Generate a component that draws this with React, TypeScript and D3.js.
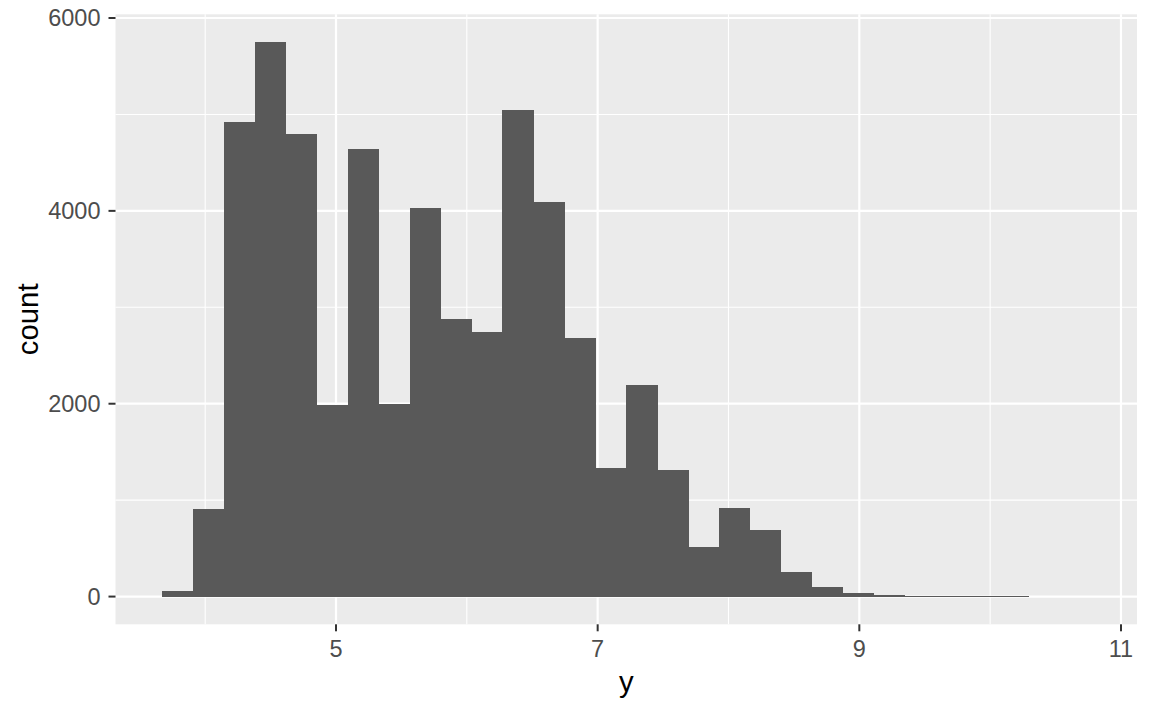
import React from "react";
import * as d3 from "d3";

// Histogram data (30 bins)
const binStart = 3.6695;
const binWidth = 0.2366;
const counts = [
  62, 912, 4922, 5751, 4798, 1982, 4642, 1993, 4031, 2881,
  2746, 5047, 4093, 2684, 1337, 2197, 1316, 518, 922, 694,
  259, 95, 33, 12, 9, 7, 6, 5, 0, 0,
];
const xMajorTicks = [5, 7, 9, 11];
const xMinorTicks = [4, 6, 8, 10];
const yMajorTicks = [0, 2000, 4000, 6000];
const yMinorTicks = [1000, 3000, 5000];
const xTitle = "y";
const yTitle = "count";

const W = 1152;
const H = 711;
const panel = { left: 115.5, right: 1137, top: 14.3, bottom: 624.3 };
const FONT = "'Liberation Sans', Arial, Helvetica, sans-serif";

export default function App() {
  const total = counts.length * binWidth;
  const xScale = d3
    .scaleLinear()
    .domain([binStart - 0.05 * total, binStart + 1.05 * total])
    .range([panel.left, panel.right]);
  const yMax = d3.max(counts) as number;
  const yScale = d3
    .scaleLinear()
    .domain([-0.05 * yMax, 1.05 * yMax])
    .range([panel.bottom, panel.top]);

  const bins = counts.map((c, i) => ({
    x0: binStart + i * binWidth,
    x1: binStart + (i + 1) * binWidth,
    c,
  }));

  return (
    <svg
      width={W}
      height={H}
      style={{ position: "absolute", left: 0, top: 0, background: "#fff" }}
      fontFamily={FONT}
    >
      <rect x={0} y={0} width={W} height={H} fill="#ffffff" />
      <rect
        x={panel.left}
        y={panel.top}
        width={panel.right - panel.left}
        height={panel.bottom - panel.top}
        fill="#EBEBEB"
      />
      {/* minor grid */}
      {yMinorTicks.map((t) => (
        <line
          key={"ym" + t}
          x1={panel.left}
          x2={panel.right}
          y1={yScale(t)}
          y2={yScale(t)}
          stroke="#fff"
          strokeWidth={1.1}
        />
      ))}
      {xMinorTicks.map((t) => (
        <line
          key={"xm" + t}
          y1={panel.top}
          y2={panel.bottom}
          x1={xScale(t)}
          x2={xScale(t)}
          stroke="#fff"
          strokeWidth={1.1}
        />
      ))}
      {/* major grid */}
      {yMajorTicks.map((t) => (
        <line
          key={"yM" + t}
          x1={panel.left}
          x2={panel.right}
          y1={yScale(t)}
          y2={yScale(t)}
          stroke="#fff"
          strokeWidth={2.2}
        />
      ))}
      {xMajorTicks.map((t) => (
        <line
          key={"xM" + t}
          y1={panel.top}
          y2={panel.bottom}
          x1={xScale(t)}
          x2={xScale(t)}
          stroke="#fff"
          strokeWidth={2.2}
        />
      ))}
      {/* bars */}
      <g shapeRendering="crispEdges">
        {bins.map((b, i) =>
          b.c > 0 ? (
            <rect
              key={i}
              x={xScale(b.x0)}
              width={xScale(b.x1) - xScale(b.x0) + 0.4}
              y={yScale(b.c)}
              height={Math.max(1, yScale(0) - yScale(b.c))}
              fill="#595959"
            />
          ) : null
        )}
      </g>
      {/* x axis ticks & labels */}
      {xMajorTicks.map((t) => (
        <g key={"xt" + t}>
          <line
            x1={xScale(t)}
            x2={xScale(t)}
            y1={panel.bottom}
            y2={panel.bottom + 7}
            stroke="#333333"
            strokeWidth={2}
          />
          <text
            x={xScale(t)}
            y={657}
            textAnchor="middle"
            fontSize={23.5}
            fill="#4D4D4D"
          >
            {t}
          </text>
        </g>
      ))}
      {/* y axis ticks & labels */}
      {yMajorTicks.map((t) => (
        <g key={"yt" + t}>
          <line
            x1={panel.left - 7}
            x2={panel.left}
            y1={yScale(t)}
            y2={yScale(t)}
            stroke="#333333"
            strokeWidth={2}
          />
          <text
            x={100.5}
            y={yScale(t)}
            dy="0.36em"
            textAnchor="end"
            fontSize={23.5}
            fill="#4D4D4D"
          >
            {t}
          </text>
        </g>
      ))}
      {/* axis titles */}
      <text
        x={(panel.left + panel.right) / 2}
        y={692}
        textAnchor="middle"
        fontSize={29.3}
        fill="#000"
      >
        {xTitle}
      </text>
      <text
        transform={`translate(37.7, ${(panel.top + panel.bottom) / 2}) rotate(-90)`}
        textAnchor="middle"
        fontSize={29.3}
        fill="#000"
      >
        {yTitle}
      </text>
    </svg>
  );
}
